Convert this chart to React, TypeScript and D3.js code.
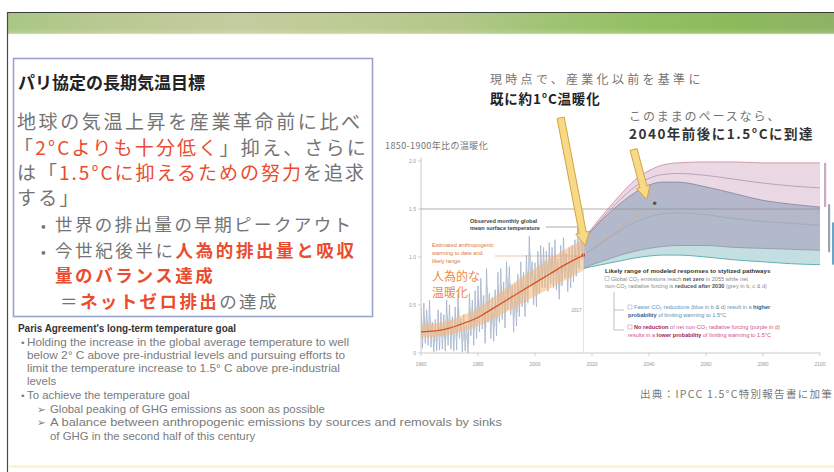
import React from 'react';
import * as d3 from 'd3';

const W = 834;
const H = 472;

const xTickYears = [1960, 1980, 2000, 2020, 2040, 2060, 2080, 2100];
const yTickValues = [0, 0.5, 1.0, 1.5, 2.0];
const yTickLabels = ['0', '0.5', '1.0', '1.5', '2.0'];

const obsYears = [
  1960, 1961, 1962, 1963, 1964, 1965, 1966, 1967, 1968, 1969,
  1970, 1971, 1972, 1973, 1974, 1975, 1976, 1977, 1978, 1979,
  1980, 1981, 1982, 1983, 1984, 1985, 1986, 1987, 1988, 1989,
  1990, 1991, 1992, 1993, 1994, 1995, 1996, 1997, 1998, 1999,
  2000, 2001, 2002, 2003, 2004, 2005, 2006, 2007, 2008, 2009,
  2010, 2011, 2012, 2013, 2014, 2015, 2016, 2017,
];
const obsHigh = [
  0.48, 0.52, 0.45, 0.55, 0.32, 0.35, 0.45, 0.42, 0.40, 0.55,
  0.50, 0.38, 0.48, 0.62, 0.36, 0.40, 0.30, 0.62, 0.55, 0.65,
  0.70, 0.78, 0.60, 0.88, 0.62, 0.58, 0.66, 0.84, 0.88, 0.74,
  0.95, 0.90, 0.70, 0.72, 0.82, 0.95, 0.84, 1.02, 1.22, 0.95,
  0.94, 1.06, 1.12, 1.10, 1.06, 1.15, 1.10, 1.18, 0.98, 1.12,
  1.20, 1.04, 1.10, 1.12, 1.18, 1.30, 1.42, 1.25,
];
const obsLow = [
  0.05, 0.10, 0.08, 0.06, 0.01, 0.02, 0.03, 0.04, 0.02, 0.08,
  0.04, 0.02, 0.03, 0.15, 0.01, 0.02, 0.00, 0.18, 0.08, 0.15,
  0.22, 0.25, 0.10, 0.32, 0.15, 0.12, 0.18, 0.32, 0.35, 0.26,
  0.45, 0.40, 0.22, 0.28, 0.38, 0.48, 0.38, 0.52, 0.70, 0.50,
  0.48, 0.62, 0.68, 0.68, 0.64, 0.72, 0.68, 0.66, 0.56, 0.70,
  0.78, 0.64, 0.68, 0.74, 0.80, 0.88, 0.98, 0.90,
];

const anthroYears = [1960, 1965, 1970, 1975, 1980, 1985, 1990, 1995, 2000, 2005, 2010, 2017];
const anthroMid = [0.22, 0.23, 0.26, 0.31, 0.37, 0.46, 0.55, 0.64, 0.73, 0.82, 0.91, 1.02];
const anthroLow = [0.16, 0.17, 0.19, 0.23, 0.28, 0.35, 0.43, 0.51, 0.59, 0.67, 0.75, 0.86];
const anthroHigh = [0.30, 0.31, 0.34, 0.40, 0.47, 0.57, 0.68, 0.78, 0.88, 0.98, 1.07, 1.18];

const projYears = [2017, 2020, 2025, 2030, 2035, 2040, 2045, 2050, 2060, 2070, 2080, 2090, 2100];
const grayLow = [0.88, 0.92, 0.97, 1.02, 1.06, 1.09, 1.11, 1.12, 1.12, 1.10, 1.09, 1.08, 1.07];
const grayHigh = [1.18, 1.28, 1.43, 1.56, 1.67, 1.75, 1.78, 1.78, 1.73, 1.66, 1.59, 1.55, 1.52];
const grayMid = [1.02, 1.08, 1.18, 1.28, 1.36, 1.42, 1.45, 1.46, 1.44, 1.40, 1.37, 1.35, 1.33];
const blueLow = [0.88, 0.90, 0.93, 0.96, 0.99, 1.01, 1.02, 1.02, 1.00, 0.97, 0.95, 0.93, 0.92];
const blueHigh = [1.18, 1.25, 1.38, 1.48, 1.55, 1.60, 1.60, 1.58, 1.50, 1.44, 1.40, 1.38, 1.36];
const purpleLow = [0.92, 0.98, 1.06, 1.14, 1.22, 1.28, 1.32, 1.35, 1.37, 1.38, 1.38, 1.38, 1.38];
const purpleHigh = [1.18, 1.30, 1.48, 1.65, 1.80, 1.90, 1.96, 1.98, 1.99, 1.99, 1.98, 1.98, 1.98];
const purpleMid = [1.18, 1.28, 1.45, 1.60, 1.73, 1.82, 1.86, 1.87, 1.85, 1.81, 1.77, 1.74, 1.72];

// trend extension to 1.5°C (dashed) and reach point
const reachYears = [2017, 2042];
const reachValues = [1.02, 1.56];

// arrows: [year, value] in chart space
const arrowNow = { from: [2009.0, 2.45], to: [2017.6, 1.12] };
const arrow2040 = { from: [2034.6, 2.12], to: [2039.2, 1.6] };

// side range bars (2100 ranges)
const sideBars = [
  { lo: 1.52, hi: 1.98, color: '#c9a9c3' },
  { lo: 1.05, hi: 1.55, color: '#9ea3b4' },
  { lo: 0.92, hi: 1.36, color: '#6aa6c4' },
];

const x = d3.scaleLinear().domain([1960, 2100]).range([421, 820]);
const y = d3.scaleLinear().domain([0, 2]).range([353, 161]);

type P = { t: number; lo: number; hi: number };
const band = (years: number[], lo: number[], hi: number[]): P[] =>
  years.map((t, i) => ({ t, lo: lo[i], hi: hi[i] }));

const areaGen = d3
  .area<P>()
  .x((d) => x(d.t))
  .y0((d) => y(d.lo))
  .y1((d) => y(d.hi))
  .curve(d3.curveMonotoneX);

const lineGen = d3
  .line<[number, number]>()
  .x((d) => x(d[0]))
  .y((d) => y(d[1]))
  .curve(d3.curveMonotoneX);

const zig = d3
  .line<[number, number]>()
  .x((d) => x(d[0]))
  .y((d) => y(d[1]));

const zip = (a: number[], b: number[]): [number, number][] => a.map((v, i) => [v, b[i]]);

function arrowPath(a: { from: number[]; to: number[] }) {
  const x0 = x(a.from[0]);
  const y0 = y(a.from[1]);
  const x1 = x(a.to[0]);
  const y1 = y(a.to[1]);
  const dx = x1 - x0;
  const dy = y1 - y0;
  const len = Math.hypot(dx, dy);
  const ux = dx / len;
  const uy = dy / len;
  const nx = -uy;
  const ny = ux;
  const sw = 3.6;
  const hw = 7;
  const hl = 13;
  const bx = x1 - ux * hl;
  const by = y1 - uy * hl;
  const pts = [
    [x0 + nx * sw, y0 + ny * sw],
    [bx + nx * sw, by + ny * sw],
    [bx + nx * hw, by + ny * hw],
    [x1, y1],
    [bx - nx * hw, by - ny * hw],
    [bx - nx * sw, by - ny * sw],
    [x0 - nx * sw, y0 - ny * sw],
  ];
  return 'M' + pts.map((p) => p[0].toFixed(1) + ',' + p[1].toFixed(1)).join('L') + 'Z';
}

const JP = "'Noto Sans CJK JP', 'Noto Sans', sans-serif";
const EN = "'Liberation Sans', Arial, sans-serif";
const GRAY = '#747474';
const RED = '#ec4b2e';

// English block: marker, text, x of text, width of text (0 = natural)
const enLines = [
  { m: '', mx: 0, t: "Paris Agreement's long-term temperature goal", x: 18, w: 218, b: true },
  { m: '•', mx: 20, t: 'Holding the increase in the global average temperature to well', x: 27, w: 322 },
  { m: '', mx: 0, t: 'below 2° C above pre-industrial levels and pursuing efforts to', x: 27, w: 318 },
  { m: '', mx: 0, t: 'limit the temperature increase to 1.5° C above pre-industrial', x: 27, w: 313 },
  { m: '', mx: 0, t: 'levels', x: 27, w: 0 },
  { m: '•', mx: 20, t: 'To achieve the temperature goal', x: 27, w: 0 },
  { m: '➢', mx: 37, t: 'Global peaking of GHG emissions as soon as possible', x: 50, w: 0 },
  { m: '➢', mx: 37, t: 'A balance between anthropogenic emissions by sources and removals by sinks', x: 50, w: 452 },
  { m: '', mx: 0, t: 'of GHG in the second half of this century', x: 50, w: 0 },
];
const enBaselines = [332, 346, 359, 372, 385, 399, 413, 426, 440];

export default function App() {
  const obsPts: [number, number][] = [];
  obsYears.forEach((yr, i) => {
    obsPts.push([yr, obsHigh[i]]);
    obsPts.push([yr + 0.5, obsLow[i]]);
  });
  const obsPts2: [number, number][] = [];
  obsYears.forEach((yr, i) => {
    obsPts2.push([yr + 0.25, (obsHigh[i] * 2 + obsLow[i]) / 3]);
    obsPts2.push([yr + 0.75, (obsHigh[i] + obsLow[i] * 2) / 3]);
  });

  return (
    <svg
      width={W}
      height={H}
      viewBox={`0 0 ${W} ${H}`}
      style={{ position: 'absolute', left: 0, top: 0, background: '#fff' }}
    >
      <defs>
        <linearGradient id="band" x1="0" x2="1" y1="0" y2="0">
          <stop offset="0%" stopColor="#a9c784" />
          <stop offset="12%" stopColor="#b9c992" />
          <stop offset="28%" stopColor="#c3cd9e" />
          <stop offset="42%" stopColor="#bccb93" />
          <stop offset="55%" stopColor="#b2c788" />
          <stop offset="65%" stopColor="#a0c474" />
          <stop offset="76%" stopColor="#94c064" />
          <stop offset="88%" stopColor="#8cbb5a" />
          <stop offset="100%" stopColor="#8fb266" />
        </linearGradient>
        <linearGradient id="bandFade" x1="0" x2="0" y1="0" y2="1">
          <stop offset="0%" stopColor="#ffffff" stopOpacity="0" />
          <stop offset="70%" stopColor="#ffffff" stopOpacity="0.15" />
          <stop offset="100%" stopColor="#f4f8e8" stopOpacity="0.9" />
        </linearGradient>
        <clipPath id="plot">
          <rect x={x(1960)} y={y(2.05)} width={x(2100) - x(1960)} height={y(0) - y(2.05)} />
        </clipPath>
      </defs>

      {/* header band */}
      <rect x={7} y={12} width={W - 7} height={22} fill="url(#band)" />
      <rect x={7} y={28} width={W - 7} height={7} fill="url(#bandFade)" />
      <line x1={7} x2={W} y1={12.5} y2={12.5} stroke="#3b3b3b" strokeWidth={1.2} />
      <line x1={7.5} x2={7.5} y1={12} y2={H} stroke="#4a4a4a" strokeWidth={1.2} />
      <line x1={8} x2={W} y1={466.5} y2={466.5} stroke="#f6f0cc" strokeWidth={2} />

      {/* left box */}
      <rect x={13.5} y={58.5} width={359} height={258} fill="#fff" stroke="#9aa3cc" strokeWidth={1.6} />
      <text x={18} y={89} fontFamily={JP} fontSize={17} fontWeight={700} fill="#222">
        パリ協定の長期気温目標
      </text>
      <text x={17} y={129} fontFamily={JP} fontSize={19} letterSpacing={2.6} fill={GRAY}>
        地球の気温上昇を産業革命前に比べ
      </text>
      <text x={14} y={155} fontFamily={JP} fontSize={19} letterSpacing={2.2} fill={GRAY}>
        「<tspan fill={RED}>2°Cよりも十分低く</tspan>」抑え、さらに
      </text>
      <text x={17} y={180} fontFamily={JP} fontSize={19} letterSpacing={2.0} fill={GRAY}>
        は「<tspan fill={RED}>1.5°Cに抑えるための努力</tspan>を追求
      </text>
      <text x={17} y={205} fontFamily={JP} fontSize={19} letterSpacing={2.2} fill={GRAY}>
        する」
      </text>
      <text x={41} y={231} fontFamily={JP} fontSize={14} fill={GRAY}>•</text>
      <text x={55} y={231} fontFamily={JP} fontSize={17.5} letterSpacing={2.4} fill={GRAY}>
        世界の排出量の早期ピークアウト
      </text>
      <text x={41} y={257} fontFamily={JP} fontSize={14} fill={GRAY}>•</text>
      <text x={55} y={257} fontFamily={JP} fontSize={17.5} letterSpacing={2.6} fill={GRAY}>
        今世紀後半に<tspan fill={RED} fontWeight={700}>人為的排出量と吸収</tspan>
      </text>
      <text x={55} y={282} fontFamily={JP} fontSize={17.5} letterSpacing={2.6} fill={RED} fontWeight={700}>
        量のバランス達成
      </text>
      <text x={60} y={308} fontFamily={JP} fontSize={17.5} letterSpacing={2.4} fill={GRAY}>
        ＝<tspan fill={RED} fontWeight={700}>ネットゼロ排出</tspan>の達成
      </text>

      {/* English text */}
      {enLines.map((l, i) => (
        <g key={i}>
          {l.m && (
            <text
              x={l.mx}
              y={enBaselines[i]}
              fontFamily="'DejaVu Sans', sans-serif"
              fontSize={l.m === '•' ? 9.5 : 10.5}
              fill="#7a7a7a"
            >
              {l.m}
            </text>
          )}
          <text
            x={l.x}
            y={enBaselines[i]}
            fontFamily={EN}
            fontSize={l.b ? 10 : 11.4}
            fontWeight={l.b ? 700 : 400}
            fill={l.b ? '#333' : '#7a7a7a'}
            {...(l.w ? { textLength: l.w, lengthAdjust: 'spacingAndGlyphs' } : {})}
          >
            {l.t}
          </text>
        </g>
      ))}

      {/* annotations top */}
      <text x={490} y={84} fontFamily={JP} fontSize={12} letterSpacing={3.3} fill={GRAY}>
        現時点で、産業化以前を基準に
      </text>
      <text x={490} y={104} fontFamily={JP} fontSize={13.5} fontWeight={700} letterSpacing={0.8} fill="#222">
        既に約1°C温暖化
      </text>
      <text x={629} y={121} fontFamily={JP} fontSize={12} letterSpacing={1.9} fill={GRAY}>
        このままのペースなら、
      </text>
      <text x={629} y={139} fontFamily={JP} fontSize={13.5} fontWeight={700} letterSpacing={1.5} fill="#333">
        2040年前後に1.5°Cに到達
      </text>
      <text x={385} y={149} fontFamily={JP} fontSize={9} letterSpacing={0.4} fill={GRAY}>
        1850-1900年比の温暖化
      </text>

      {/* chart */}
      <g>
        <line x1={x(1960)} x2={x(1960)} y1={y(2.04)} y2={y(0)} stroke="#bdbdbd" strokeWidth={0.8} />
        <line x1={x(1960)} x2={x(2100)} y1={y(0)} y2={y(0)} stroke="#bdbdbd" strokeWidth={0.8} />
        {yTickValues.map((v, i) => (
          <g key={v}>
            <line x1={x(1960) - 3} x2={x(1960)} y1={y(v)} y2={y(v)} stroke="#bbb" strokeWidth={0.7} />
            <text x={x(1960) - 5} y={y(v) + 1.8} fontSize={5} fontFamily={EN} textAnchor="end" fill="#999">
              {yTickLabels[i]}
            </text>
          </g>
        ))}
        {xTickYears.map((t) => (
          <g key={t}>
            <line x1={x(t)} x2={x(t)} y1={y(0)} y2={y(0) + 3} stroke="#bbb" strokeWidth={0.7} />
            <text x={x(t)} y={y(0) + 13} fontSize={5} fontFamily={EN} textAnchor="middle" fill="#999">
              {t}
            </text>
          </g>
        ))}

        <g clipPath="url(#plot)">
          <path d={areaGen(band(projYears, purpleLow, purpleHigh)) || ''} fill="#ead9e4" />
          <path d={areaGen(band(projYears, blueLow, blueHigh)) || ''} fill="#c3dfe2" />
          <path d={areaGen(band(projYears, grayLow, grayHigh)) || ''} fill="#b1b6c8" fillOpacity={0.95} />
          <path d={lineGen(zip(projYears, purpleHigh)) || ''} fill="none" stroke="#d796aa" strokeWidth={1} />
          <path d={lineGen(zip(projYears, purpleMid)) || ''} fill="none" stroke="#b79ab8" strokeWidth={0.9} />
          <path d={lineGen(zip(projYears, grayHigh)) || ''} fill="none" stroke="#8a8aa4" strokeWidth={0.9} />
          <path d={lineGen(zip(projYears, grayLow)) || ''} fill="none" stroke="#8e95a8" strokeWidth={0.8} />
          <path d={lineGen(zip(projYears, blueLow)) || ''} fill="none" stroke="#62b2b5" strokeWidth={1} />
          <path d={lineGen(zip(projYears, grayMid)) || ''} fill="none" stroke="#9fa3b5" strokeWidth={0.7} />

          <path d={zig(obsPts2) || ''} fill="none" stroke="#d3d9e2" strokeWidth={0.7} />
          <path d={zig(obsPts) || ''} fill="none" stroke="#a3b3ca" strokeWidth={0.8} />

          <path d={areaGen(band(anthroYears, anthroLow, anthroHigh)) || ''} fill="#f7b777" fillOpacity={0.55} />
          <path d={lineGen(zip(anthroYears, anthroMid)) || ''} fill="none" stroke="#d4521f" strokeWidth={1.3} />
          <path
            d={zig(zip(reachYears, reachValues)) || ''}
            fill="none"
            stroke="#e5a45a"
            strokeWidth={0.9}
            strokeDasharray="2,2"
          />
          <circle cx={x(reachYears[1])} cy={y(reachValues[1])} r={1.8} fill="#555" />
          <circle cx={x(anthroYears[anthroYears.length - 1])} cy={y(anthroMid[anthroMid.length - 1])} r={1.8} fill="#c9481c" />
        </g>

        <line x1={x(1960)} x2={x(2100)} y1={y(1.5)} y2={y(1.5)} stroke="#8c8c8c" strokeWidth={0.7} />
        <line x1={x(2017)} x2={x(2017)} y1={y(1.5)} y2={y(0)} stroke="#d0d0d0" strokeWidth={0.6} />
        <text x={x(2017) - 2} y={y(0.43)} fontSize={4.5} fontFamily={EN} textAnchor="end" fill="#999">2017</text>

        {sideBars.map((b, i) => (
          <rect
            key={i}
            x={x(2100) + 4 + i * 4}
            y={y(b.hi)}
            width={2.2}
            height={y(b.lo) - y(b.hi)}
            fill={b.color}
          />
        ))}

        <text x={470} y={223} fontSize={5.6} fontFamily={EN} fontWeight={700} fill="#444">
          Observed monthly global
        </text>
        <text x={470} y={230} fontSize={5.6} fontFamily={EN} fontWeight={700} fill="#444">
          mean surface temperature
        </text>
        <line x1={546} x2={x(2017)} y1={227} y2={227} stroke="#777" strokeWidth={0.6} />

        <text x={432} y={247} fontSize={5.6} fontFamily={EN} fill="#e0783a">Estimated anthropogenic</text>
        <text x={432} y={255} fontSize={5.6} fontFamily={EN} fill="#e0783a">warming to date and</text>
        <text x={432} y={263} fontSize={5.6} fontFamily={EN} fill="#e0783a">likely range</text>
        <line x1={495} x2={x(2016)} y1={256} y2={256} stroke="#e0a070" strokeWidth={0.6} />
        <text x={432} y={281} fontSize={12} fontFamily={JP} fill="#f08a45">人為的な</text>
        <text x={432} y={297} fontSize={12} fontFamily={JP} fill="#f08a45">温暖化</text>

        <text x={605} y={273} fontSize={6.2} fontFamily={EN} fontWeight={700} fill="#333">
          Likely range of modeled responses to stylized pathways
        </text>
        <rect x={605} y={276.5} width={4} height={4} fill="none" stroke="#999" strokeWidth={0.5} />
        <text x={611} y={281} fontSize={5.6} fontFamily={EN} fill="#888">
          Global CO₂ emissions reach <tspan fontWeight={700} fill="#555">net zero</tspan> in 2055 while net
        </text>
        <text x={605} y={288} fontSize={5.6} fontFamily={EN} fill="#888">
          non-CO₂ radiative forcing is <tspan fontWeight={700} fill="#555">reduced after 2030</tspan> (grey in b, c &amp; d)
        </text>
        <path d="M614,292 V330 H624 M614,310 H624" fill="none" stroke="#999" strokeWidth={0.6} />
        <rect x={628} y={305} width={4} height={4} fill="none" stroke="#7aa8c8" strokeWidth={0.5} />
        <text x={634} y={309} fontSize={5.6} fontFamily={EN} fill="#5a8fb5">
          Faster CO₂ reductions (blue in b &amp; d) result in a <tspan fontWeight={700} fill="#2d5f8f">higher</tspan>
        </text>
        <text x={628} y={317} fontSize={5.6} fontFamily={EN} fill="#5a8fb5">
          <tspan fontWeight={700} fill="#2d5f8f">probability</tspan> of limiting warming to 1.5°C
        </text>
        <rect x={628} y={325} width={4} height={4} fill="none" stroke="#d07aa0" strokeWidth={0.5} />
        <text x={634} y={329} fontSize={5.6} fontFamily={EN} fill="#d0508a">
          <tspan fontWeight={700} fill="#a0205f">No reduction</tspan> of net non-CO₂ radiative forcing (purple in d)
        </text>
        <text x={628} y={337} fontSize={5.6} fontFamily={EN} fill="#d0508a">
          results in a <tspan fontWeight={700} fill="#a0205f">lower probability</tspan> of limiting warming to 1.5°C
        </text>
      </g>

      <path d={arrowPath(arrowNow)} fill="#f6da88" stroke="#d8a23c" strokeWidth={1} strokeLinejoin="round" />
      <path d={arrowPath(arrow2040)} fill="#f6da88" stroke="#d8a23c" strokeWidth={1} strokeLinejoin="round" />

      <text x={640} y={398} fontFamily={JP} fontSize={10.5} letterSpacing={1.3} fill="#777">
        出典：IPCC 1.5°C特別報告書に加筆
      </text>
    </svg>
  );
}
